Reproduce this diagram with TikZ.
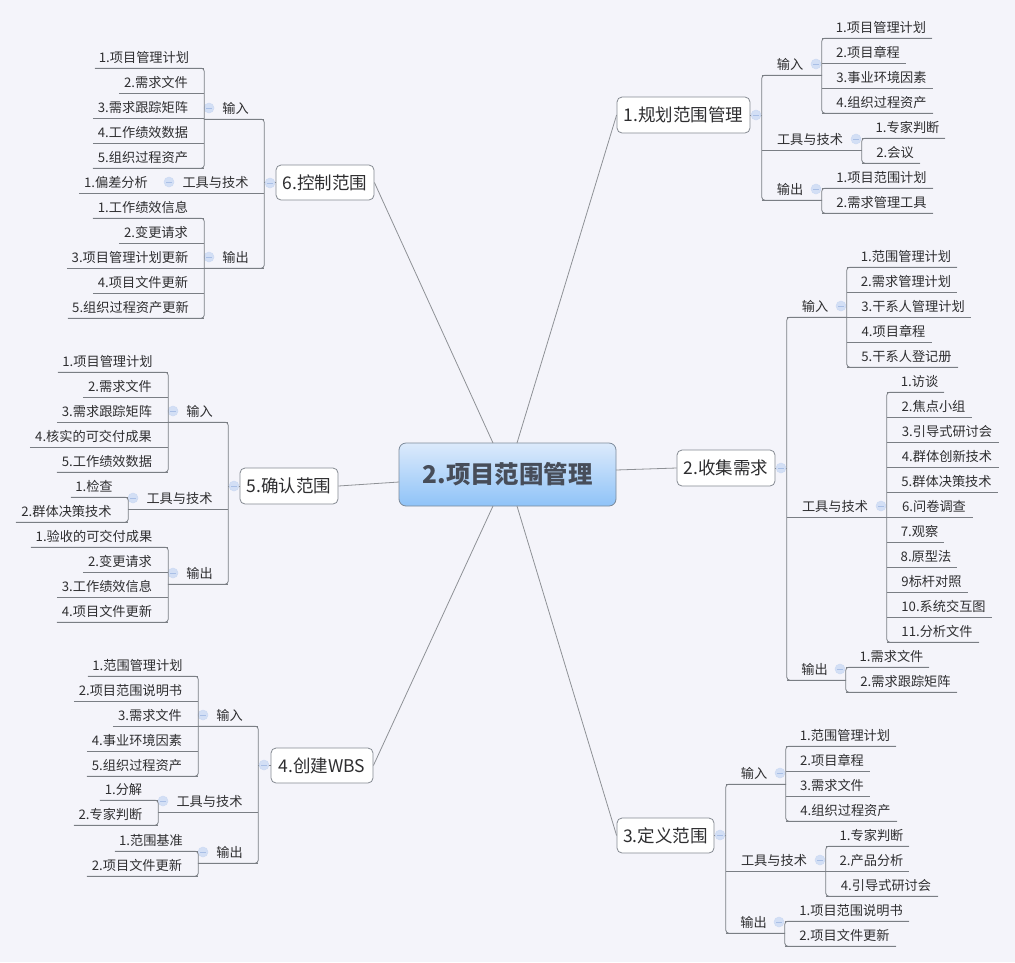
\documentclass[tikz,border=0pt]{standalone}
\usepackage{fontspec}
\setmainfont{Noto Sans CJK SC}
\definecolor{bgc}{HTML}{F4F4FA}
\definecolor{linec}{HTML}{7A7E84}
\definecolor{txtc}{HTML}{2E2E30}
\definecolor{topc}{HTML}{DCEAFB}
\definecolor{botc}{HTML}{8FC3F8}
\definecolor{cbord}{HTML}{7C8A9A}
\definecolor{bbord}{HTML}{858A92}
\definecolor{ctxt}{HTML}{474D59}
\definecolor{iconf}{HTML}{D3DFF5}
\definecolor{iconl}{HTML}{A9BFE6}
\tikzset{
  conn/.style={draw=linec,line width=0.8pt},
  spoke/.style={draw=linec!85,line width=0.8pt},
  bracket/.style={conn,rounded corners=3pt},
  leafnode/.style={inner sep=0pt,minimum height=21pt,text=txtc,font=\fontsize{13.2pt}{15pt}\selectfont},
  topicbox/.style={draw=bbord,line width=0.8pt,fill=white,rounded corners=5pt,inner sep=0pt,text=txtc,font=\fontsize{17.5pt}{20pt}\selectfont},
  centerbox/.style={draw=cbord,line width=0.8pt,rounded corners=7pt,top color=topc,bottom color=botc,inner sep=0pt,text=ctxt,font=\fontsize{24.4pt}{28pt}\selectfont\bfseries},
  minusicon/.style={circle,inner sep=0pt,minimum size=10pt,fill=iconf,draw=iconf!85!iconl,line width=0.5pt,
    path picture={\draw[iconl,line width=1pt] ([xshift=-3pt]path picture bounding box.center) -- ([xshift=3pt]path picture bounding box.center);}},
}
% leaves: name, x0, x1, underline y, text
\newcommand\leafR[5]{\node[leafnode,minimum width={(#3-#2)*1pt}] (#1) at ({(#2+#3)/2},{#4-10.5}) {\hspace*{8pt}#5};\draw[conn] (#1.south west) -- (#1.south east);}
\newcommand\leafL[5]{\node[leafnode,minimum width={(#3-#2)*1pt}] (#1) at ({(#2+#3)/2},{#4-10.5}) {#5\hspace*{11pt}};\draw[conn] (#1.south west) -- (#1.south east);}
% groups: name, x0, x1, underline y, text
\newcommand\groupR[5]{\node[leafnode,minimum width={(#3-#2)*1pt}] (#1) at ({(#2+#3)/2},{#4-10.5}) {#5\hspace*{4pt}};\draw[conn] (#1.south west) -- (#1.south east);\node[minusicon] (#1i) at ({#3-6},{#4-11}) {};}
\newcommand\groupL[5]{\node[leafnode,minimum width={(#3-#2)*1pt}] (#1) at ({(#2+#3)/2},{#4-10.5}) {\hspace*{3pt}#5};\draw[conn] (#1.south west) -- (#1.south east);\node[minusicon] (#1i) at ({#2+5},{#4-11}) {};}
% brackets: first, last
\newcommand\brR[2]{\draw[bracket] (#1.south east) -- (#1.south west) -- (#2.south west) -- (#2.south east);}
\newcommand\brL[2]{\draw[bracket] (#1.south west) -- (#1.south east) -- (#2.south east) -- (#2.south west);}
% topic: name, x0, x1, y0, y1, text
\newcommand\topic[6]{\node[topicbox,minimum width={(#3-#2)*1pt},minimum height={(#5-#4)*1pt}] (#1) at ({(#2+#3)/2},{(#4+#5)/2}) {#6};}
\begin{document}
\begin{tikzpicture}[x=1pt,y=-1pt]
\fill[bgc] (0,0) rectangle (1015,962);
\useasboundingbox (0,0) rectangle (1015,962);

% central and topics
\node[centerbox,minimum width=217pt,minimum height=63pt] (c) at (507.5,474.5) {2.项目范围管理};
\coordinate (cnl) at (493,443);
\coordinate (cnr) at (517,443);
\coordinate (csl) at (493,506);
\coordinate (csr) at (517,506);
\coordinate (cw) at (399,482);
\coordinate (ce) at (616,470);
\topic{t1}{617}{750}{97}{133}{1.规划范围管理}
\topic{t2}{677}{775}{450}{486}{2.收集需求}
\topic{t3}{617}{714}{818}{853}{3.定义范围}
\topic{t4}{271}{373}{748}{783}{4.创建WBS}
\topic{t5}{240}{338}{468}{504}{5.确认范围}
\topic{t6}{276}{374}{165}{200}{6.控制范围}
\draw[spoke] (cnr) -- (t1.west);
\draw[spoke] (ce) -- (t2.west);
\draw[spoke] (csr) -- (t3.west);
\draw[spoke] (csl) -- (t4.east);
\draw[spoke] (cw) -- (t5.east);
\draw[spoke] (cnl) -- (t6.east);

% ---- topic 1
\groupR{t1a}{762}{822}{75}{输入}
\groupR{t1b}{762}{862}{150}{工具与技术}
\groupR{t1c}{762}{822}{200}{输出}
\brR{t1a}{t1c}
\draw[conn] (t1.east) -- (t1.east -| t1a.south west);
\node[minusicon] (t1i) at (756,115) {};
\leafR{t1a1}{822}{932}{38}{1.项目管理计划}
\leafR{t1a2}{822}{906}{63}{2.项目章程}
\leafR{t1a3}{822}{933}{88}{3.事业环境因素}
\leafR{t1a4}{822}{933}{113}{4.组织过程资产}
\brR{t1a1}{t1a4}
\leafR{t1b1}{862}{945}{138}{1.专家判断}
\leafR{t1b2}{862}{920}{163}{2.会议}
\brR{t1b1}{t1b2}
\leafR{t1c1}{822}{933}{188}{1.项目范围计划}
\leafR{t1c2}{822}{933}{213}{2.需求管理工具}
\brR{t1c1}{t1c2}

% ---- topic 2
\groupR{t2a}{787}{847}{317}{输入}
\groupR{t2b}{787}{887}{517}{工具与技术}
\groupR{t2c}{787}{846}{680}{输出}
\brR{t2a}{t2c}
\draw[conn] (t2.east) -- (t2.east -| t2a.south west);
\node[minusicon] (t2i) at (781,468) {};
\leafR{t2a1}{847}{957}{267}{1.范围管理计划}
\leafR{t2a2}{847}{957}{292}{2.需求管理计划}
\leafR{t2a3}{847}{971}{317}{3.干系人管理计划}
\leafR{t2a4}{847}{932}{342}{4.项目章程}
\leafR{t2a5}{847}{958}{367}{5.干系人登记册}
\brR{t2a1}{t2a5}
\leafR{t2b1}{887}{944}{392}{1.访谈}
\leafR{t2b2}{887}{972}{417}{2.焦点小组}
\leafR{t2b3}{887}{999}{442}{3.引导式研讨会}
\leafR{t2b4}{887}{999}{467}{4.群体创新技术}
\leafR{t2b5}{887}{998}{492}{5.群体决策技术}
\leafR{t2b6}{887}{973}{517}{6.问卷调查}
\leafR{t2b7}{887}{944}{542}{7.观察}
\leafR{t2b8}{887}{957}{567}{8.原型法}
\leafR{t2b9}{887}{968}{592}{9标杆对照}
\leafR{t2b10}{887}{992}{617}{10.系统交互图}
\leafR{t2b11}{887}{979}{642}{11.分析文件}
\brR{t2b1}{t2b11}
\leafR{t2c1}{846}{929}{667}{1.需求文件}
\leafR{t2c2}{846}{957}{692}{2.需求跟踪矩阵}
\brR{t2c1}{t2c2}

% ---- topic 3
\groupR{t3a}{726}{786}{784}{输入}
\groupR{t3b}{726}{826}{871}{工具与技术}
\groupR{t3c}{726}{785}{933}{输出}
\brR{t3a}{t3c}
\draw[conn] (t3.east) -- (t3.east -| t3a.south west);
\node[minusicon] (t3i) at (720,835) {};
\leafR{t3a1}{786}{896}{746}{1.范围管理计划}
\leafR{t3a2}{786}{870}{771}{2.项目章程}
\leafR{t3a3}{786}{870}{796}{3.需求文件}
\leafR{t3a4}{786}{897}{821}{4.组织过程资产}
\brR{t3a1}{t3a4}
\leafR{t3b1}{826}{909}{846}{1.专家判断}
\leafR{t3b2}{826}{909}{871}{2.产品分析}
\leafR{t3b3}{826}{938}{896}{4.引导式研讨会}
\brR{t3b1}{t3b3}
\leafR{t3c1}{785}{909}{921}{1.项目范围说明书}
\leafR{t3c2}{785}{896}{946}{2.项目文件更新}
\brR{t3c1}{t3c2}

% ---- topic 4
\groupL{t4a}{198}{258}{726}{输入}
\groupL{t4b}{158}{258}{812}{工具与技术}
\groupL{t4c}{198}{258}{863}{输出}
\brL{t4a}{t4c}
\draw[conn] (t4.west) -- (t4.west -| t4a.south east);
\node[minusicon] (t4i) at (264,765) {};
\leafL{t4a1}{88}{198}{676}{1.范围管理计划}
\leafL{t4a2}{74}{198}{701}{2.项目范围说明书}
\leafL{t4a3}{113}{198}{726}{3.需求文件}
\leafL{t4a4}{87}{198}{751}{4.事业环境因素}
\leafL{t4a5}{87}{198}{776}{5.组织过程资产}
\brL{t4a1}{t4a5}
\leafL{t4b1}{100}{158}{800}{1.分解}
\leafL{t4b2}{74}{158}{825}{2.专家判断}
\brL{t4b1}{t4b2}
\leafL{t4c1}{115}{198}{851}{1.范围基准}
\leafL{t4c2}{87}{198}{876}{2.项目文件更新}
\brL{t4c1}{t4c2}

% ---- topic 5
\groupL{t5a}{168}{228}{422}{输入}
\groupL{t5b}{128}{228}{509}{工具与技术}
\groupL{t5c}{168}{228}{584}{输出}
\brL{t5a}{t5c}
\draw[conn] (t5.west) -- (t5.west -| t5a.south east);
\node[minusicon] (t5i) at (234,486) {};
\leafL{t5a1}{58}{168}{372}{1.项目管理计划}
\leafL{t5a2}{83}{168}{397}{2.需求文件}
\leafL{t5a3}{57}{168}{422}{3.需求跟踪矩阵}
\leafL{t5a4}{30}{168}{447}{4.核实的可交付成果}
\leafL{t5a5}{57}{168}{472}{5.工作绩效数据}
\brL{t5a1}{t5a5}
\leafL{t5b1}{71}{128}{497}{1.检查}
\leafL{t5b2}{16}{128}{522}{2.群体决策技术}
\brL{t5b1}{t5b2}
\leafL{t5c1}{31}{168}{547}{1.验收的可交付成果}
\leafL{t5c2}{83}{168}{572}{2.变更请求}
\leafL{t5c3}{57}{168}{597}{3.工作绩效信息}
\leafL{t5c4}{57}{168}{622}{4.项目文件更新}
\brL{t5c1}{t5c4}

% ---- topic 6
\groupL{t6a}{204}{264}{119}{输入}
\groupL{t6b}{164}{264}{193}{工具与技术}
\groupL{t6c}{204}{264}{268}{输出}
\brL{t6a}{t6c}
\draw[conn] (t6.west) -- (t6.west -| t6a.south east);
\node[minusicon] (t6i) at (270,183) {};
\leafL{t6a1}{95}{204}{68}{1.项目管理计划}
\leafL{t6a2}{119}{204}{93}{2.需求文件}
\leafL{t6a3}{93}{204}{118}{3.需求跟踪矩阵}
\leafL{t6a4}{93}{204}{143}{4.工作绩效数据}
\leafL{t6a5}{93}{204}{168}{5.组织过程资产}
\brL{t6a1}{t6a5}
\leafL{t6b1}{79}{164}{193}{1.偏差分析}
\leafL{t6c1}{93}{204}{218}{1.工作绩效信息}
\leafL{t6c2}{119}{204}{243}{2.变更请求}
\leafL{t6c3}{67}{204}{268}{3.项目管理计划更新}
\leafL{t6c4}{93}{204}{293}{4.项目文件更新}
\leafL{t6c5}{68}{204}{318}{5.组织过程资产更新}
\brL{t6c1}{t6c5}
\end{tikzpicture}
\end{document}
